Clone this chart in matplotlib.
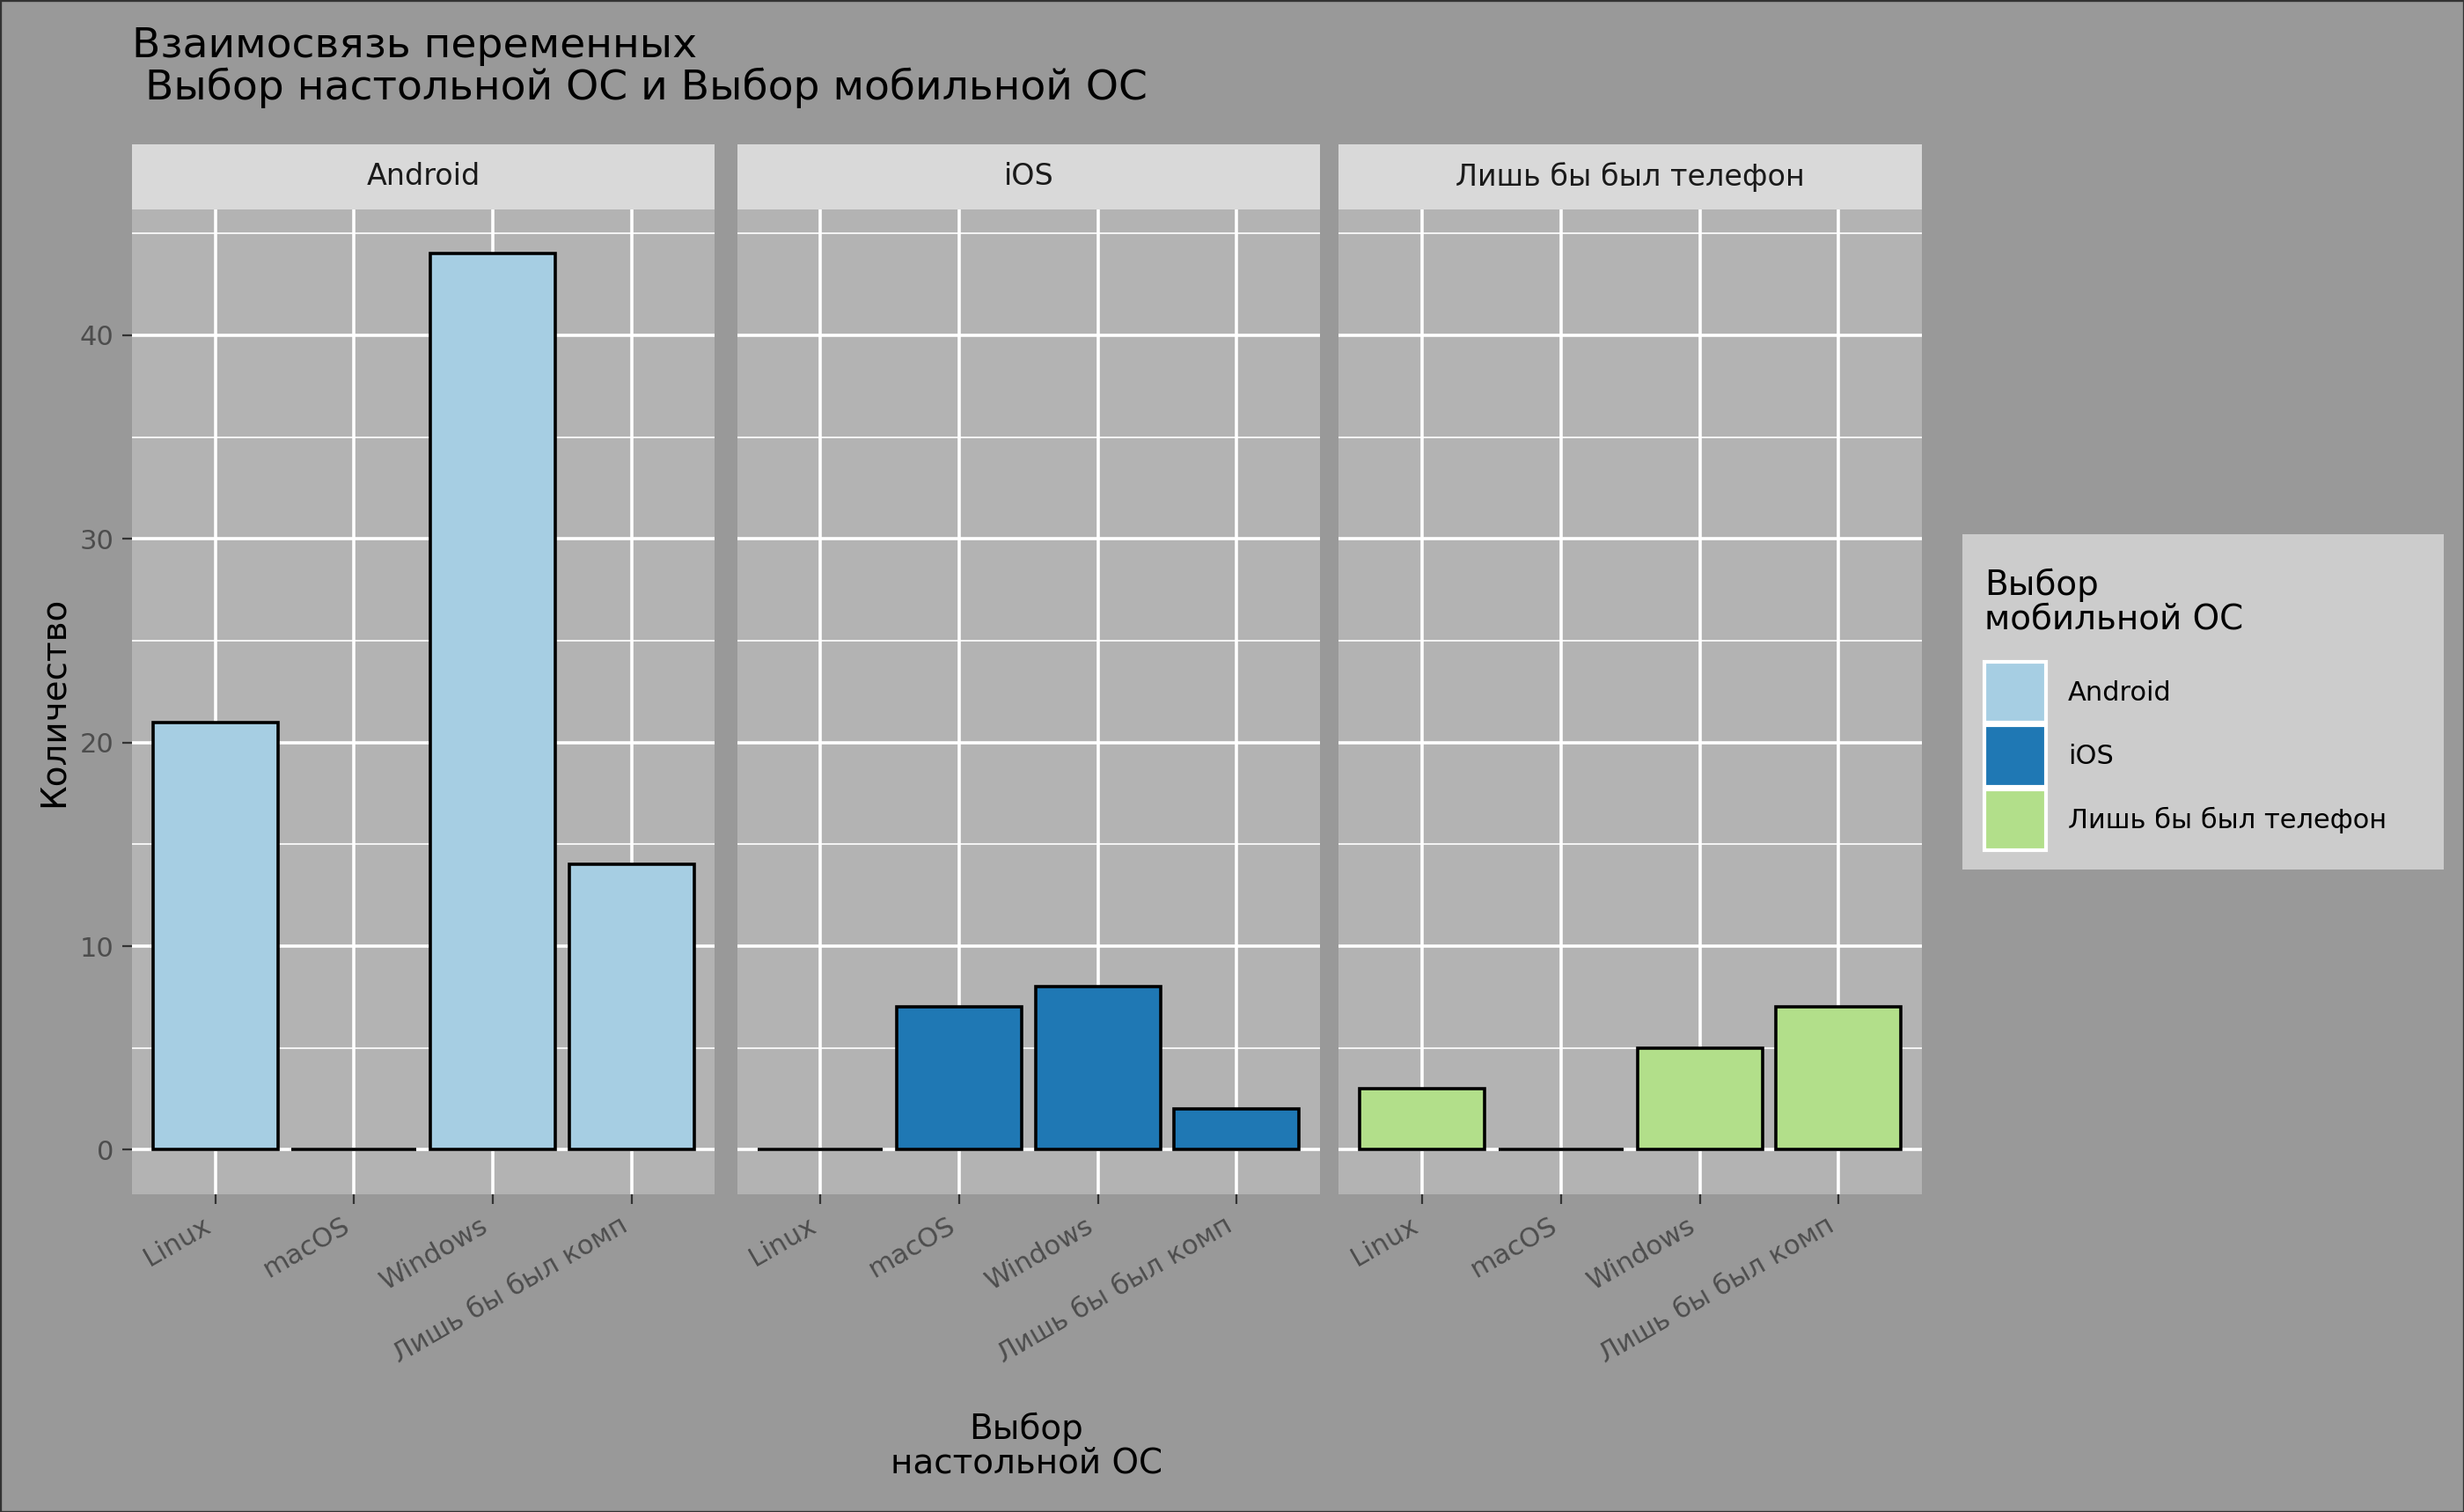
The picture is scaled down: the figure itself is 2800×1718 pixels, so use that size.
import matplotlib
matplotlib.use("Agg")
import matplotlib.pyplot as plt
from matplotlib.patches import Rectangle

desktop = ["Linux", "macOS", "Windows", "Лишь бы был комп"]
mobile = ["Android", "iOS", "Лишь бы был телефон"]
counts = {
    "Android": [21, 0, 44, 14],
    "iOS": [0, 7, 8, 2],
    "Лишь бы был телефон": [3, 0, 5, 7],
}
colors = {"Android": "#a6cee3", "iOS": "#1f78b4", "Лишь бы был телефон": "#b2df8a"}

plt.rcParams["font.family"] = ["DejaVu Sans"]
W, H = 1568, 962
fig = plt.figure(figsize=(14, 8.59), dpi=200, facecolor="#999999")
fig.patches.append(Rectangle((0, 0), 1, 1, transform=fig.transFigure, fill=False,
                             edgecolor="#333333", lw=1.2))

lefts = [84, 469, 852]
pw = 371
top, bot = 133, 760
for i, m in enumerate(mobile):
    ax = fig.add_axes([lefts[i] / W, 1 - bot / H, pw / W, (bot - top) / H])
    ax.set_facecolor("#b3b3b3")
    x = range(len(desktop))
    ax.bar(x, counts[m], width=0.9, color=colors[m], edgecolor="black", lw=1.3, zorder=3)
    ax.set_xlim(-0.6, 3.6)
    ax.set_ylim(-2.2, 46.2)
    ax.set_yticks([0, 10, 20, 30, 40])
    ax.set_yticks([5, 15, 25, 35, 45], minor=True)
    ax.grid(True, which="major", color="white", lw=1.3, zorder=0)
    ax.grid(True, which="minor", axis="y", color="white", lw=0.6, zorder=0)
    ax.set_xticks(list(x))
    ax.set_xticklabels(desktop, rotation=30, ha="right", fontsize=11, color="#4d4d4d")
    ax.tick_params(axis="both", which="both", length=4, color="#333333", labelsize=11,
                   labelcolor="#4d4d4d")
    ax.tick_params(axis="y", which="minor", length=0)
    if i > 0:
        ax.tick_params(axis="y", left=False, labelleft=False)
    else:
        ax.set_ylabel("Количество", fontsize=14)
    for s in ax.spines.values():
        s.set_visible(False)
    # strip
    sax = fig.add_axes([lefts[i] / W, 1 - top / H, pw / W, 41 / H])
    sax.set_facecolor("#d9d9d9")
    sax.set_xticks([]); sax.set_yticks([])
    for s in sax.spines.values():
        s.set_visible(False)
    sax.text(0.5, 0.5, m, ha="center", va="center", fontsize=12, color="#1a1a1a")

fig.text(653 / W, 1 - 920 / H, "Выбор\nнастольной ОС", ha="center", va="center",
         fontsize=14, linespacing=1.0)
fig.text(84 / W, 1 - 43 / H, "Взаимосвязь переменных\n Выбор настольной ОС и Выбор мобильной ОС",
         ha="left", va="center", fontsize=17, linespacing=1.05)

# legend
lax = fig.add_axes([1249 / W, 1 - 553 / H, (1555 - 1249) / W, (553 - 340) / H])
lax.set_xlim(1249, 1555)
lax.set_ylim(553, 340)
lax.set_facecolor("#cccccc")
lax.set_xticks([]); lax.set_yticks([])
for s in lax.spines.values():
    s.set_visible(False)
lax.text(1263, 383, "Выбор\nмобильной ОС", ha="left", va="center", fontsize=14, linespacing=1.0)
for j, m in enumerate(mobile):
    y0 = 421 + j * 40.5
    lax.add_patch(Rectangle((1263, y0), 39, 39, facecolor=colors[m], edgecolor="white", lw=1.5))
    lax.text(1316, y0 + 20, m, ha="left", va="center", fontsize=11)

fig.savefig("out.png", dpi=200, facecolor=fig.get_facecolor())
